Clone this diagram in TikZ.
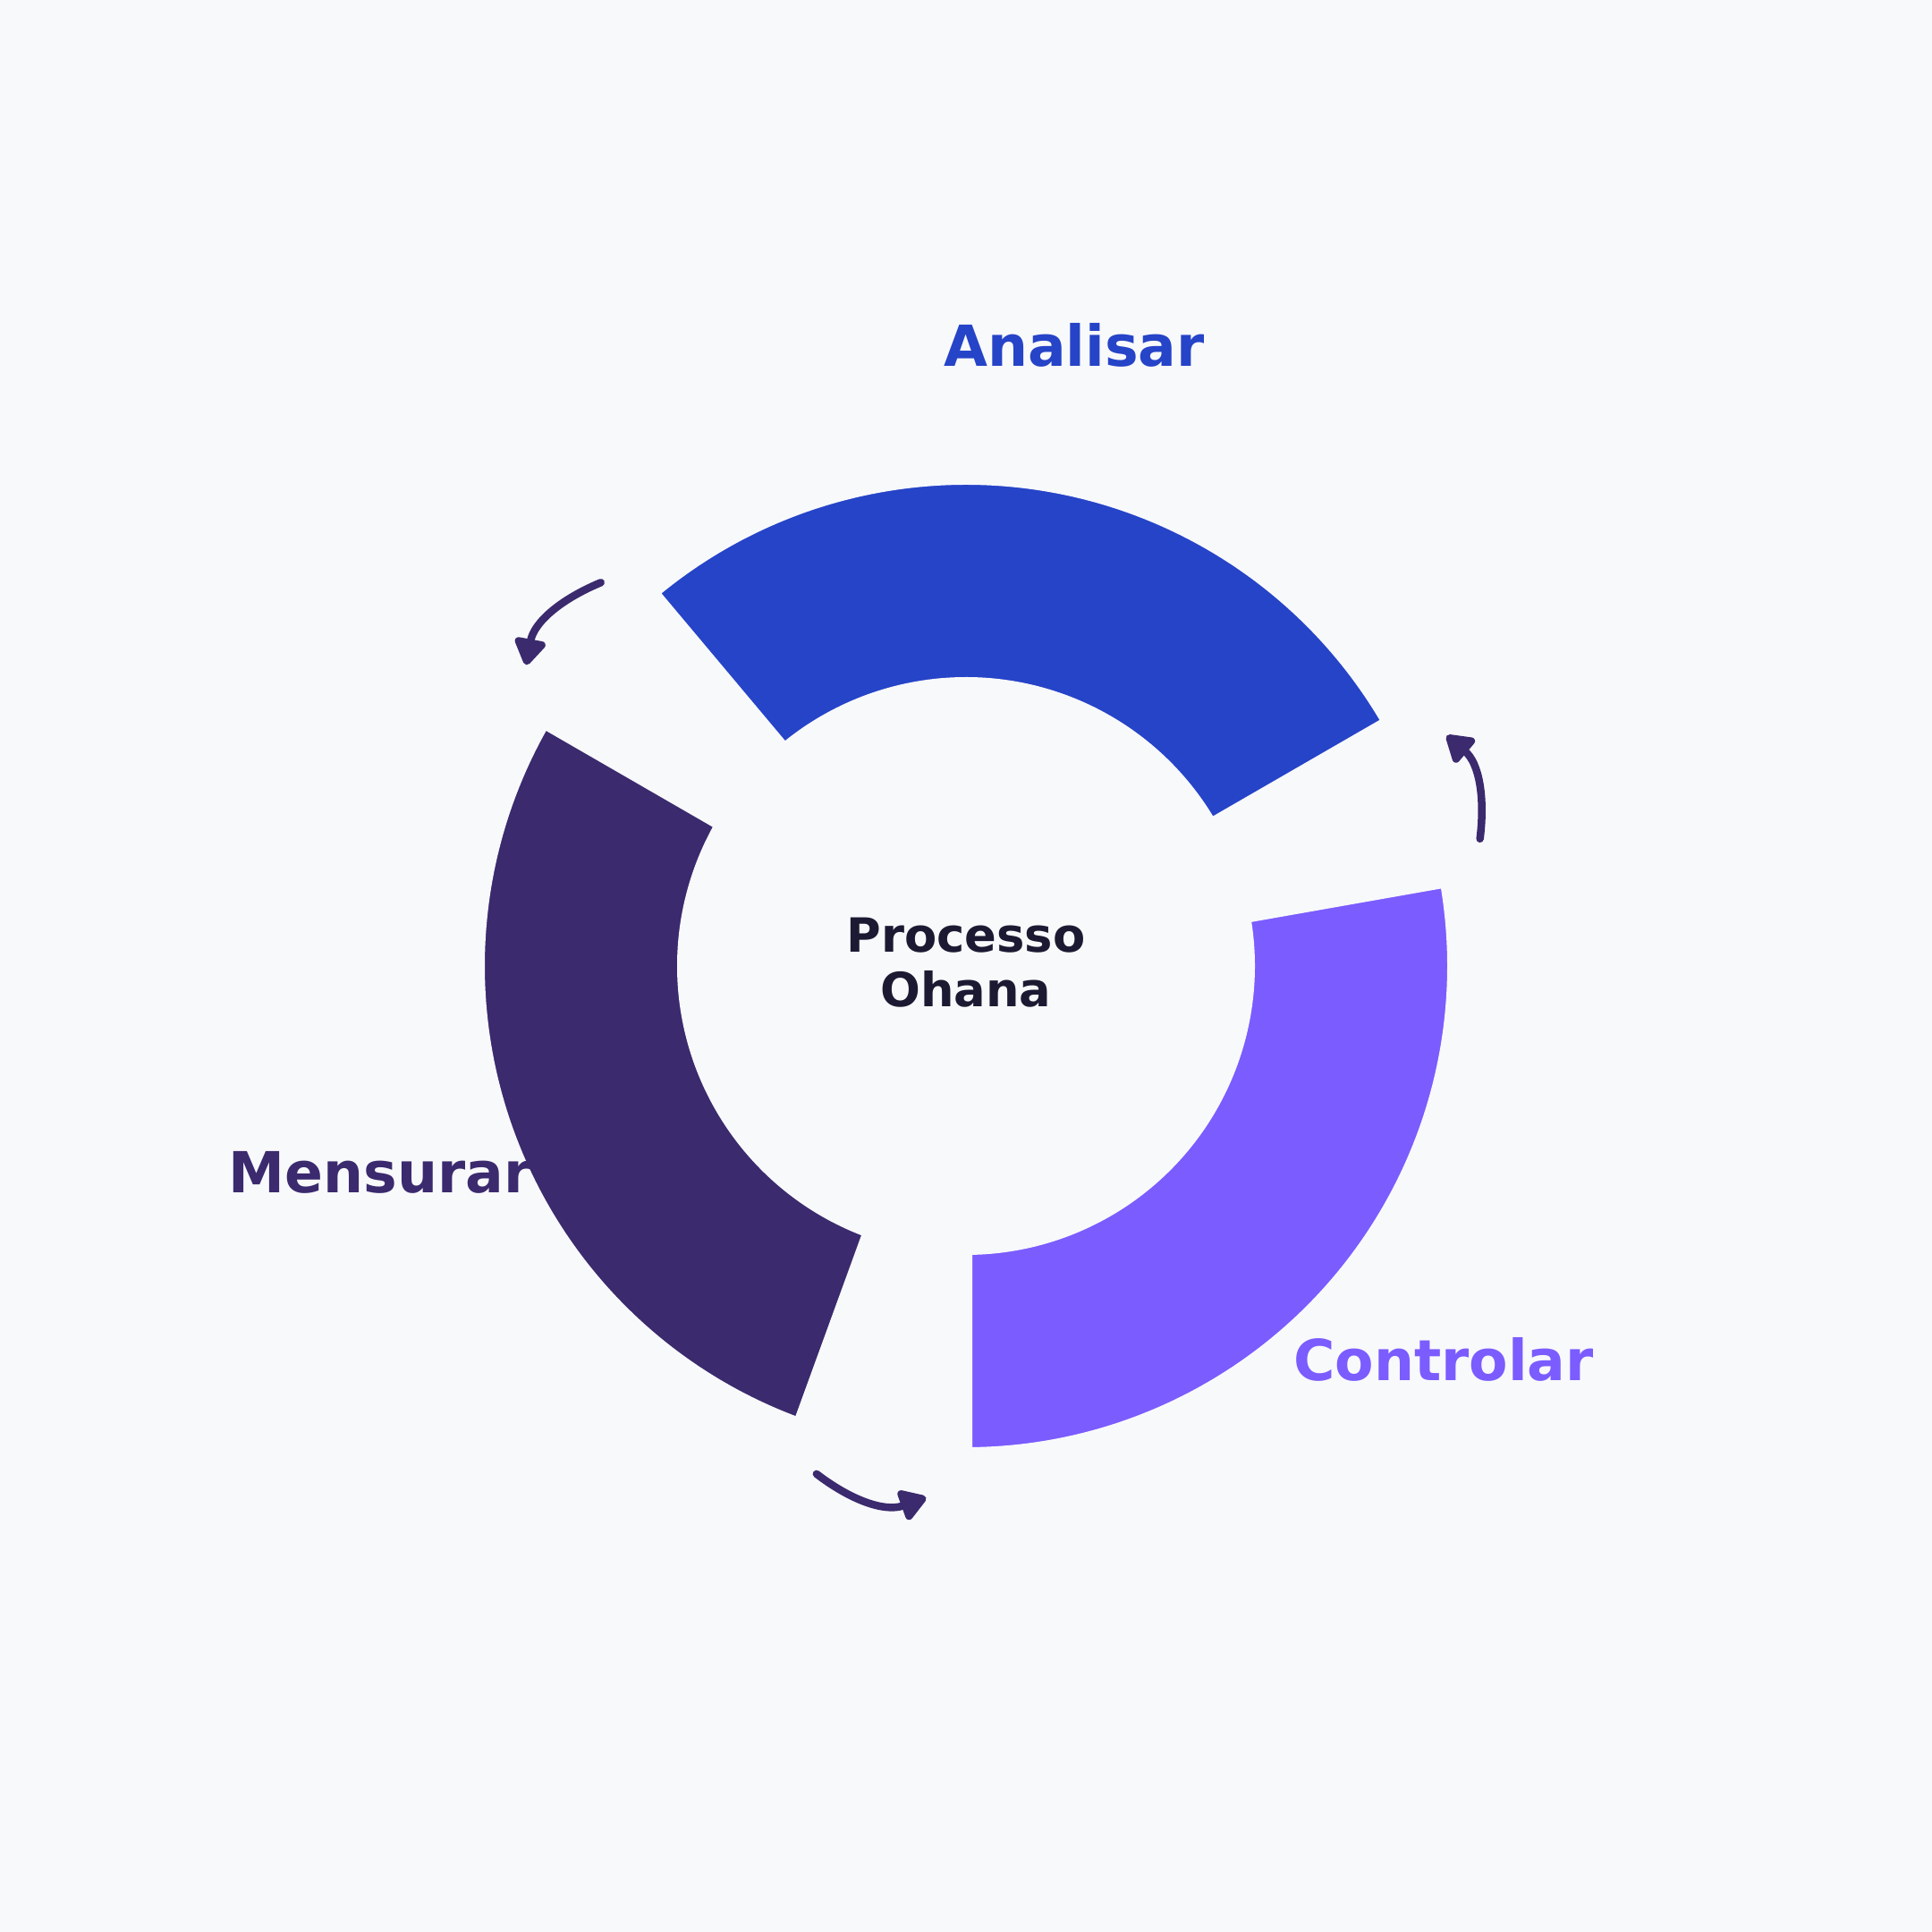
\documentclass[tikz,border=0pt]{standalone}
\usepackage{fontspec}
\setmainfont{DejaVu Sans}
\usetikzlibrary{arrows.meta}

\definecolor{fundo}{HTML}{F8F9FB}
\definecolor{azulanalisar}{HTML}{2644C8}
\definecolor{roxocontrolar}{HTML}{7B5CFF}
\definecolor{roxomensurar}{HTML}{3B2A6E}
\definecolor{textocentro}{HTML}{1C1A33}

\begin{document}
\begin{tikzpicture}
    % Stili
    \tikzstyle{segmento}=[draw=fundo, line width=1.4mm, line join=miter]
    \tikzstyle{etichetta}=[font=\fontsize{18}{21}\selectfont\bfseries, inner sep=0pt]
    \tikzstyle{freccia}=[line width=0.85mm, line cap=round, roxomensurar, -{Triangle[length=3.3mm, width=3.9mm, round]}]

    % Sfondo
    \fill[fundo] (-10.8,-10.8) rectangle (10.8,10.8);
    \useasboundingbox (-10.8,-10.8) rectangle (10.8,10.8);

    % Segmenti dell'anello
    \path[segmento, fill=azulanalisar] (30:5.45) arc[start angle=30, end angle=130, radius=5.45]
        -- (130:3.16) arc[start angle=130, end angle=30, radius=3.16] -- cycle;
    \path[segmento, fill=roxomensurar] (150:5.45) arc[start angle=150, end angle=250, radius=5.45]
        -- (250:3.16) arc[start angle=250, end angle=150, radius=3.16] -- cycle;
    \path[segmento, fill=roxocontrolar] (270:5.45) arc[start angle=270, end angle=370, radius=5.45]
        -- (370:3.16) arc[start angle=370, end angle=270, radius=3.16] -- cycle;

    % Etichette
    \node[etichetta, text=azulanalisar] (analisar) at ([yshift=0.08cm]80:6.97) {Analisar};
    \node[etichetta, text=roxomensurar] (mensurar) at ([yshift=0.08cm]200:6.97) {Mensurar};
    \node[etichetta, text=roxocontrolar] (controlar) at ([yshift=0.08cm]320:6.97) {Controlar};
    \node[font=\fontsize{15}{17.3}\selectfont\bfseries, text=textocentro, align=center] (centro) at (0,0.04) {Processo\\Ohana};

    % Frecce del ciclo
    \coordinate (f1a) at (133.6:5.92);
    \coordinate (f1b) at (145.6:5.96);
    \coordinate (f2a) at (13.9:5.92);
    \coordinate (f2b) at (25.6:5.96);
    \coordinate (f3a) at (253.6:5.92);
    \coordinate (f3b) at (265.7:5.96);
    \draw[freccia] (f1a) to[out=202.6, in=79.6] (f1b);
    \draw[freccia] (f2a) to[out=82.9, in=-40.4] (f2b);
    \draw[freccia] (f3a) to[out=322.6, in=199.7] (f3b);
\end{tikzpicture}
\end{document}
